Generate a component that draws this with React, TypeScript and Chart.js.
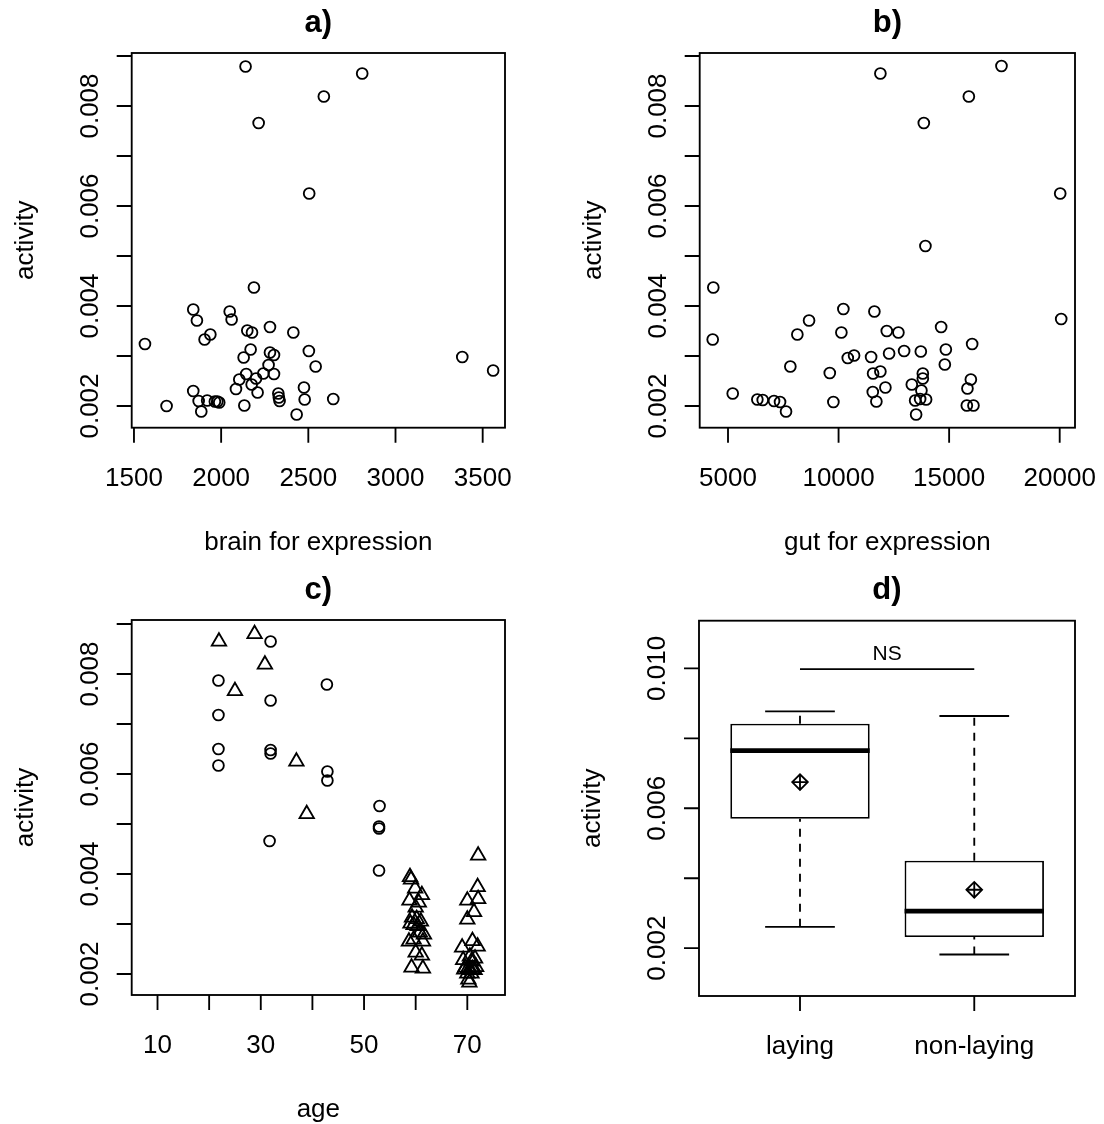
import React, { useEffect, useRef } from 'react';
import { Chart, registerables } from 'chart.js';

Chart.register(...registerables);

const FONT = '"Liberation Sans", Arial, Helvetica, sans-serif';

// ---- a) activity against brain expression ----
const brainExpression = [
  2140, 2809, 2589, 2215, 2505,
  1563, 1687, 1840, 1861, 1938, 1905, 1840, 1871, 1886, 1920, 1964, 1978, 1989,
  2049, 2060, 2188, 2150, 2177, 2280, 2414, 2169, 2129, 2280, 2303, 2503, 2542,
  2272, 2144, 2242, 2303, 2104, 2200, 2175, 2085, 2209, 2328, 2331, 2335, 2133,
  2475, 2479, 2643, 2433, 3383, 3560,
];
const brainActivity = [
  0.00879, 0.00865, 0.00819, 0.00766, 0.00625,
  0.00324, 0.00200, 0.00393, 0.00371, 0.00343, 0.00333, 0.00230, 0.00210, 0.00189, 0.00211, 0.00209, 0.00209, 0.00207,
  0.00389, 0.00373, 0.00437, 0.00351, 0.00347, 0.00358, 0.00347, 0.00313, 0.00297, 0.00307, 0.00302, 0.00310, 0.00279,
  0.00282, 0.00264, 0.00265, 0.00264, 0.00253, 0.00255, 0.00243, 0.00234, 0.00227, 0.00225, 0.00217, 0.00210, 0.00201,
  0.00237, 0.00213, 0.00214, 0.00183, 0.00298, 0.00271,
];

// ---- b) activity against gut expression ----
const gutExpression = [
  11891, 17367, 15891, 13855, 20023, 13928,
  4335, 4308, 5213, 6327, 6570, 7081, 7353, 7624, 7819, 8136, 8665, 9602, 9765,
  10217, 10127, 10416, 10701, 11620, 11471, 11561, 11891, 11547, 11710, 12118, 12180,
  12706, 12285, 12964, 13719, 14638, 14851, 14805, 13810, 13810, 13312, 13747, 13462,
  13688, 13959, 13507, 16041, 15982, 15828, 15800, 16100, 20068,
];
const gutActivity = [
  0.00865, 0.00880, 0.00819, 0.00766, 0.00625, 0.00520,
  0.00437, 0.00333, 0.00225, 0.00213, 0.00212, 0.00210, 0.00208, 0.00189, 0.00279, 0.00343, 0.00371, 0.00266, 0.00208,
  0.00394, 0.00347, 0.00296, 0.00301, 0.00389, 0.00298, 0.00265, 0.00269, 0.00228, 0.00209, 0.00237, 0.00350,
  0.00347, 0.00305, 0.00310, 0.00309, 0.00358, 0.00313, 0.00283, 0.00265, 0.00255, 0.00243, 0.00231, 0.00211,
  0.00214, 0.00213, 0.00183, 0.00324, 0.00253, 0.00235, 0.00201, 0.00201, 0.00374,
];

// ---- c) activity against age (circles and triangles are two groups of birds) ----
const ageCircles = [31.9, 21.8, 42.8, 31.9, 21.8, 21.8, 21.8, 31.9, 31.9, 42.9, 42.9, 53.0, 52.9, 52.9, 52.9, 31.7];
const activityCircles = [
  0.00865, 0.00787, 0.00779, 0.00747, 0.00718, 0.00650, 0.00617, 0.00648,
  0.00641, 0.00605, 0.00587, 0.00536, 0.00495, 0.00491, 0.00407, 0.00466,
];
const ageTriangles = [
  21.9, 28.8, 30.8, 25.0, 36.9, 38.9,
  58.9, 59.1, 59.9, 61.2, 58.8, 60.6, 60.0, 59.3, 60.2, 61.0, 59.0,
  59.6, 60.4, 60.8, 61.6, 59.6, 58.7, 61.4, 60.0, 61.2, 59.2, 61.4,
  72.1, 72.0, 72.1, 70.0, 71.3, 70.0, 71.0, 72.0, 69.0, 70.5, 71.5, 69.2,
  70.8, 71.7, 69.6, 70.2, 71.0, 69.4, 70.6, 71.4, 70.0, 70.8, 70.2, 70.4,
];
const activityTriangles = [
  0.00865, 0.00880, 0.00819, 0.00766, 0.00625, 0.00520,
  0.00394, 0.00389, 0.00371, 0.00358, 0.00347, 0.00343, 0.00333, 0.00313, 0.00310, 0.00305, 0.00301,
  0.00298, 0.00296, 0.00283, 0.00279, 0.00269, 0.00265, 0.00265, 0.00243, 0.00237, 0.00213, 0.00211,
  0.00437, 0.00374, 0.00350, 0.00347, 0.00324, 0.00309, 0.00266, 0.00255, 0.00253, 0.00235, 0.00231, 0.00228,
  0.00225, 0.00214, 0.00213, 0.00212, 0.00210, 0.00209, 0.00208, 0.00208, 0.00201, 0.00201, 0.00189, 0.00183,
];

// ---- d) activity by laying status ----
const layingGroups = ['laying', 'non-laying'];
const groupPositions = [1, 2];
const whiskerLow = [0.00261, 0.00182];
const quartile1 = [0.00570, 0.00232];
const medianActivity = [0.00765, 0.00306];
const quartile3 = [0.00842, 0.00450];
const whiskerHigh = [0.00877, 0.00864];
const meanActivity = [0.00675, 0.00367];
const significanceLevel = 0.00998;
const significanceLabel = 'NS';

// ---- axis ticks ----
const brainTicks = [1500, 2000, 2500, 3000, 3500];
const brainTickLabels = ['1500', '2000', '2500', '3000', '3500'];
const gutTicks = [5000, 10000, 15000, 20000];
const gutTickLabels = ['5000', '10000', '15000', '20000'];
const ageTicks = [10, 20, 30, 40, 50, 60, 70];
const ageTickLabels = ['10', '', '30', '', '50', '', '70'];
const activityTicks = [0.002, 0.003, 0.004, 0.005, 0.006, 0.007, 0.008, 0.009];
const activityTickLabels = ['0.002', '', '0.004', '', '0.006', '', '0.008', ''];
const boxActivityTicks = [0.002, 0.004, 0.006, 0.008, 0.010];
const boxActivityTickLabels = ['0.002', '', '0.006', '', '0.010'];

const LINE_W = 1.85;
const TICK_LEN = 15;
const BOX_WEX = 0.8; // box width in group units
const STAPLE_WEX = 0.4; // whisker cap width in group units
const BOX_WIDTH_PX = 139.4;

// Base-graphics style frame: box, outward ticks, rotated y labels, titles.
const rAxes = {
  id: 'rAxes',
  afterDraw(chart: any, _args: any, opts: any) {
    const { ctx, chartArea: area, scales } = chart;
    const xs = scales.x;
    const ys = scales.y;
    ctx.save();
    ctx.strokeStyle = '#000';
    ctx.fillStyle = '#000';
    ctx.lineWidth = LINE_W;
    ctx.setLineDash([]);
    ctx.strokeRect(area.left, area.top, area.right - area.left, area.bottom - area.top);

    ctx.beginPath();
    opts.xTicks.forEach((v: number) => {
      const px = xs.getPixelForValue(v);
      ctx.moveTo(px, area.bottom);
      ctx.lineTo(px, area.bottom + TICK_LEN);
    });
    opts.yTicks.forEach((v: number) => {
      const py = ys.getPixelForValue(v);
      ctx.moveTo(area.left, py);
      ctx.lineTo(area.left - TICK_LEN, py);
    });
    ctx.stroke();

    ctx.font = `26px ${FONT}`;
    ctx.textAlign = 'center';
    ctx.textBaseline = 'alphabetic';
    opts.xTicks.forEach((v: number, i: number) => {
      const lbl = opts.xLabels[i];
      if (lbl) ctx.fillText(lbl, xs.getPixelForValue(v), area.bottom + 58);
    });
    opts.yTicks.forEach((v: number, i: number) => {
      const lbl = opts.yLabels[i];
      if (!lbl) return;
      ctx.save();
      ctx.translate(area.left - 34, ys.getPixelForValue(v));
      ctx.rotate(-Math.PI / 2);
      ctx.fillText(lbl, 0, 0);
      ctx.restore();
    });

    const cx = (area.left + area.right) / 2;
    if (opts.xTitle) ctx.fillText(opts.xTitle, cx, area.bottom + 122);
    if (opts.yTitle) {
      ctx.save();
      ctx.translate(area.left - 99, (area.top + area.bottom) / 2);
      ctx.rotate(-Math.PI / 2);
      ctx.fillText(opts.yTitle, 0, 0);
      ctx.restore();
    }
    if (opts.note) {
      ctx.font = `21px ${FONT}`;
      ctx.fillText(opts.note.text, xs.getPixelForValue(opts.note.x), ys.getPixelForValue(opts.note.y) - 9);
    }
    ctx.font = `bold 31px ${FONT}`;
    ctx.fillText(opts.title, cx, area.top - 21.5);
    ctx.restore();
  },
};

const pointSet = (xv: number[], yv: number[], style: string, radius: number) => ({
  type: 'scatter',
  data: xv.map((x, i) => ({ x, y: yv[i] })),
  pointStyle: style,
  pointRadius: radius,
  pointBorderWidth: LINE_W,
  pointBorderColor: '#000',
  pointBackgroundColor: 'rgba(0,0,0,0)',
  borderColor: '#000',
  backgroundColor: 'rgba(0,0,0,0)',
  showLine: false,
});

const segment = (points: { x: number; y: number }[], width: number, dash: number[], order: number) => ({
  type: 'line',
  data: points,
  borderColor: '#000',
  borderWidth: width,
  borderDash: dash,
  borderCapStyle: 'butt',
  pointRadius: 0,
  fill: false,
  order,
});

const baseOptions = (padding: any, xr: number[], yr: number[], frame: any) => ({
  animation: false,
  responsive: false,
  events: [],
  layout: { padding },
  scales: {
    x: { type: 'linear', display: false, offset: false, min: xr[0], max: xr[1], bounds: 'data' },
    y: { type: 'linear', display: false, offset: false, min: yr[0], max: yr[1], bounds: 'data' },
  },
  plugins: { legend: { display: false }, tooltip: { enabled: false }, rAxes: frame },
});

const configA = () => ({
  type: 'scatter',
  data: { datasets: [pointSet(brainExpression, brainActivity, 'circle', 5.4)] },
  options: baseOptions(
    { left: 131.7, top: 53, right: 63, bottom: 139.3 },
    [1487, 3628],
    [0.001566, 0.00906],
    {
      title: 'a)', xTitle: 'brain for expression', yTitle: 'activity',
      xTicks: brainTicks, xLabels: brainTickLabels, yTicks: activityTicks, yLabels: activityTickLabels,
    },
  ),
  plugins: [rAxes],
});

const configB = () => ({
  type: 'scatter',
  data: { datasets: [pointSet(gutExpression, gutActivity, 'circle', 5.4)] },
  options: baseOptions(
    { left: 131.7, top: 53, right: 29, bottom: 139.3 },
    [3720, 20692],
    [0.001566, 0.00906],
    {
      title: 'b)', xTitle: 'gut for expression', yTitle: 'activity',
      xTicks: gutTicks, xLabels: gutTickLabels, yTicks: activityTicks, yLabels: activityTickLabels,
    },
  ),
  plugins: [rAxes],
});

const configC = () => ({
  type: 'scatter',
  data: {
    datasets: [
      pointSet(ageCircles, activityCircles, 'circle', 5.4),
      pointSet(ageTriangles, activityTriangles, 'triangle', 8.3),
    ],
  },
  options: baseOptions(
    { left: 131.7, top: 53, right: 63, bottom: 129 },
    [5.0, 77.3],
    [0.00158, 0.00908],
    {
      title: 'c)', xTitle: 'age', yTitle: 'activity',
      xTicks: ageTicks, xLabels: ageTickLabels, yTicks: activityTicks, yLabels: activityTickLabels,
    },
  ),
  plugins: [rAxes],
});

const configD = () => {
  const lines: any[] = [];
  groupPositions.forEach((x, i) => {
    // dashed whiskers
    lines.push(segment([{ x, y: quartile3[i] }, { x, y: whiskerHigh[i] }], LINE_W, [8, 7], 4));
    lines.push(segment([{ x, y: whiskerLow[i] }, { x, y: quartile1[i] }], LINE_W, [8, 7], 4));
    // whisker caps
    const hs = STAPLE_WEX / 2;
    lines.push(segment([{ x: x - hs, y: whiskerHigh[i] }, { x: x + hs, y: whiskerHigh[i] }], LINE_W, [], 3));
    lines.push(segment([{ x: x - hs, y: whiskerLow[i] }, { x: x + hs, y: whiskerLow[i] }], LINE_W, [], 3));
    // median
    const hb = BOX_WEX / 2;
    lines.push(segment([{ x: x - hb, y: medianActivity[i] }, { x: x + hb, y: medianActivity[i] }], 4.8, [], 2));
  });
  return {
    type: 'bar',
    data: {
      datasets: [
        segment(
          [{ x: groupPositions[0], y: significanceLevel }, { x: groupPositions[1], y: significanceLevel }],
          LINE_W, [], 1,
        ),
        { ...pointSet(groupPositions, meanActivity, 'rectRot', 7.8), order: 0 },
        { ...pointSet(groupPositions, meanActivity, 'cross', 7.8), order: 0 },
        ...lines,
        {
          type: 'bar',
          label: layingGroups.join(' / '),
          data: groupPositions.map((x, i) => ({ x, y: [quartile1[i], quartile3[i]] })),
          backgroundColor: '#fff', borderColor: '#000', borderWidth: LINE_W,
          borderSkipped: false, inflateAmount: 0, barThickness: BOX_WIDTH_PX, order: 10,
        },
      ],
    },
    options: baseOptions(
      { left: 131, top: 53.7, right: 29, bottom: 128 },
      [0.4205, 2.578],
      [0.000632, 0.011365],
      {
        title: 'd)', xTitle: '', yTitle: 'activity',
        xTicks: groupPositions, xLabels: layingGroups, yTicks: boxActivityTicks, yLabels: boxActivityTickLabels,
        note: { text: significanceLabel, x: (groupPositions[0] + groupPositions[1]) / 2, y: significanceLevel },
      },
    ),
    plugins: [rAxes],
  };
};

function Panel({ left, top, width, height, build }: any) {
  const ref = useRef<HTMLCanvasElement>(null);
  useEffect(() => {
    const chart = new Chart(ref.current as HTMLCanvasElement, build() as any);
    return () => chart.destroy();
  }, [build]);
  return (
    <canvas
      ref={ref}
      width={width}
      height={height}
      style={{ position: 'absolute', left, top, width, height }}
    />
  );
}

export default function App() {
  return (
    <div style={{ position: 'absolute', left: 0, top: 0, width: 1104, height: 1124, background: '#fff' }}>
      <Panel left={0} top={0} width={568} height={567} build={configA} />
      <Panel left={568} top={0} width={536} height={567} build={configB} />
      <Panel left={0} top={567} width={568} height={557} build={configC} />
      <Panel left={568} top={567} width={536} height={557} build={configD} />
    </div>
  );
}
